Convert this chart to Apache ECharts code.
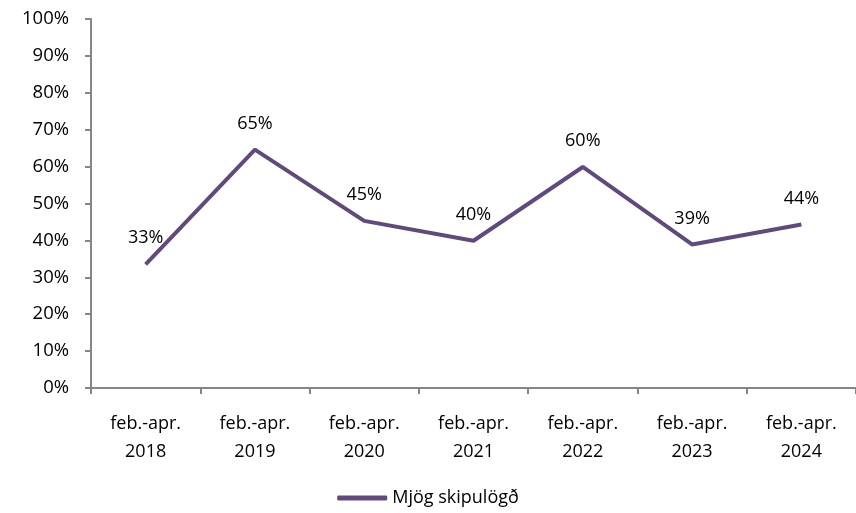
<!DOCTYPE html>
<html>
<head>
<meta charset="utf-8">
<script src="https://cdn.jsdelivr.net/npm/echarts@6/dist/echarts.min.js"></script>
<style>
  html, body { margin: 0; padding: 0; background: #fff; }
  #main { width: 856px; height: 513px; }
</style>
</head>
<body>
<div id="main"></div>
<script>
var categories = ['feb.-apr.\n2018', 'feb.-apr.\n2019', 'feb.-apr.\n2020', 'feb.-apr.\n2021',
                  'feb.-apr.\n2022', 'feb.-apr.\n2023', 'feb.-apr.\n2024'];
var seriesName = 'Mjög skipulögð';
var values = [33.5, 64.6, 45.3, 39.9, 59.9, 38.9, 44.3];
var labels = ['33%', '65%', '45%', '40%', '60%', '39%', '44%'];

var myChart = echarts.init(document.getElementById('main'));
var font = '"Open Sans", sans-serif';

var option = {
    animation: false,
    textStyle: { fontFamily: font },
    legend: {
        bottom: 1,
        left: 'center',
        itemWidth: 50,
        itemHeight: 5,
        icon: 'roundRect',
        textStyle: { fontSize: 18, color: '#000', fontFamily: font },
        data: [seriesName]
    },
    grid: {
        left: 91,
        right: -9,
        top: 19,
        bottom: 125
    },
    xAxis: {
        type: 'category',
        data: categories,
        boundaryGap: true,
        axisLine: { lineStyle: { color: '#868686', width: 2 } },
        axisTick: { show: true, length: 6, lineStyle: { color: '#868686', width: 2 } },
        axisLabel: { color: '#000', fontSize: 18, lineHeight: 28, margin: 22, interval: 0, fontFamily: font }
    },
    yAxis: {
        type: 'value',
        min: 0,
        max: 100,
        interval: 10,
        axisLine: { show: true, lineStyle: { color: '#868686', width: 2 } },
        axisTick: { show: true, length: 6, lineStyle: { color: '#868686', width: 2 } },
        splitLine: { show: false },
        axisLabel: { color: '#000', fontSize: 18.5, margin: 22, formatter: '{value}%', fontFamily: font }
    },
    series: [{
        name: seriesName,
        type: 'line',
        data: values,
        symbol: 'circle',
        symbolSize: 0.1,
        showSymbol: true,
        lineStyle: { color: '#604a7b', width: 4 },
        itemStyle: { color: '#604a7b' },
        label: {
            show: true,
            position: 'top',
            distance: 17,
            fontSize: 18,
            color: '#000',
            fontFamily: font,
            formatter: function (p) { return labels[p.dataIndex]; }
        }
    }]
};

myChart.setOption(option);
</script>
</body>
</html>
